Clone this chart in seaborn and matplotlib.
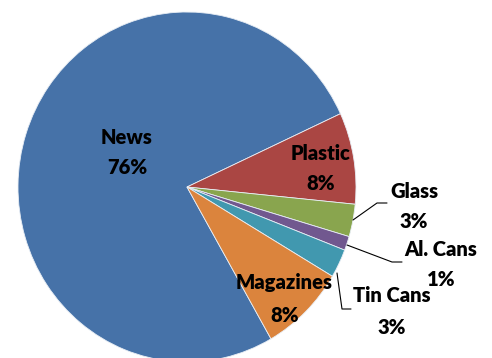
import matplotlib
matplotlib.use("Agg")
import matplotlib.pyplot as plt
import seaborn as sns

# ---- data ----
categories = ["News", "Plastic", "Glass", "Al. Cans", "Tin Cans", "Magazines"]
values = [76.4, 8.45, 3.0, 1.3, 2.65, 8.2]
colors = ["#4672A8", "#AA4643", "#89A54E", "#71588F", "#4198AF", "#DB843D"]

sns.set_theme(style="white")
plt.rcParams["font.family"] = ["Lato", "DejaVu Sans"]

W, H = 492, 358
fig = plt.figure(figsize=(W / 100, H / 100), dpi=100)
ax = fig.add_axes([0, 0, 1, 1])

# pixel geometry of the pie
CX, CY, RX, RY = 187.0, 187.0, 169.0, 175.0


def px(x, y):
    """pixel position -> data coords (unit-radius pie at origin)"""
    return (x - CX) / RX, (CY - y) / RY


palette = sns.color_palette(colors)
wedges, _ = ax.pie(values, colors=palette, startangle=-60.2, counterclock=False,
                   radius=1.0, center=(0, 0),
                   wedgeprops=dict(linewidth=0.6, edgecolor="#e8eef5"))
ax.set_aspect("auto")
ax.set_xlim(px(0, 0)[0], px(W, 0)[0])
ax.set_ylim(px(0, H)[1], px(0, 0)[1])
ax.axis("off")

total = sum(values)
label_pos = {
    "News": ((127, 137), (127, 167)),
    "Plastic": ((321, 153), (321, 183)),
    "Glass": ((414, 191), (414, 222)),
    "Al. Cans": ((441, 249), (441, 279)),
    "Tin Cans": ((392, 295), (392, 327)),
    "Magazines": ((284, 283), (285, 315)),
}
FS = 14.5
for cat, v in zip(categories, values):
    (x1, y1), (x2, y2) = label_pos[cat]
    ax.text(*px(x1, y1), cat, ha="center", va="center", fontsize=FS,
            fontweight="heavy", color="black")
    ax.text(*px(x2, y2), f"{v / total * 100:.0f}%", ha="center", va="center",
            fontsize=FS, fontweight="heavy", color="black")

# leader lines
leaders = [
    [(353, 220), (377, 203), (387, 203)],
    [(347, 245), (392, 262), (402, 262)],
    [(337, 273), (342, 309), (351, 309)],
]
for pts in leaders:
    xs, ys = zip(*[px(x, y) for x, y in pts])
    ax.plot(xs, ys, color="black", linewidth=0.8)

fig.savefig("out.png", dpi=100)
